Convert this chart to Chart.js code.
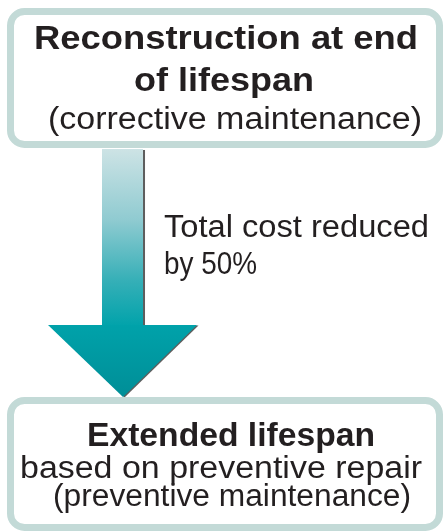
<!DOCTYPE html>
<html>
<head>
<meta charset="utf-8">
<title>Reconstruction vs extended lifespan</title>
<script src="https://cdn.jsdelivr.net/npm/chart.js@4.4.1/dist/chart.umd.min.js"></script>
<style>
  html, body { margin: 0; padding: 0; background: #ffffff; }
  #wrap { width: 444px; height: 532px; }
</style>
</head>
<body>
<div id="wrap"><canvas id="diagram" width="444" height="532"></canvas></div>
<script>
// Textos del diagrama (de arriba hacia abajo)
const boxTitles = [["Reconstruction at end", "of lifespan"], ["Extended lifespan"]];
const boxNotes = [["(corrective maintenance)"], ["based on preventive repair", "(preventive maintenance)"]];
const arrowLabel = ["Total cost reduced", "by 50%"];

// Posiciones en unidades del diagrama (ejes ocultos 0..444 x 0..532)
const layout = {
    boxes: [
        { x0: 7, y0: 8, x1: 443, y1: 148,
          lines: [ { y: 49, cx: 226, w: 384 }, { y: 91, cx: 224, w: 180 }, { y: 129, cx: 235, w: 374 } ] },
        { x0: 7, y0: 397, x1: 443, y1: 531,
          lines: [ { y: 446, cx: 231, w: 288 }, { y: 478, cx: 221, w: 402 }, { y: 506, cx: 232, w: 358 } ] }
    ],
    arrow: { shaftX0: 102, shaftX1: 143, top: 149, neck: 325, headX0: 48, headX1: 197, tip: 397 },
    label: { x: 164, lines: [ { y: 237, w: 265 }, { y: 274, w: 93 } ] }
};

const fontFamily = "'Liberation Sans', Arial, Helvetica, sans-serif";
const textColor = '#231f20';
const borderColor = '#c3dad7';

function roundRect(ctx, x, y, w, h, r) {
    ctx.beginPath();
    ctx.moveTo(x + r, y);
    ctx.lineTo(x + w - r, y);
    ctx.arcTo(x + w, y, x + w, y + r, r);
    ctx.lineTo(x + w, y + h - r);
    ctx.arcTo(x + w, y + h, x + w - r, y + h, r);
    ctx.lineTo(x + r, y + h);
    ctx.arcTo(x, y + h, x, y + h - r, r);
    ctx.lineTo(x, y + r);
    ctx.arcTo(x, y, x + r, y, r);
    ctx.closePath();
}

// Dibuja una línea de texto ajustada al ancho medido en la imagen
function fitText(ctx, text, font, x, y, width, align) {
    ctx.save();
    ctx.font = font;
    const w = ctx.measureText(text).width;
    ctx.translate(x, y);
    ctx.scale(width / w, 1);
    ctx.textAlign = align;
    ctx.textBaseline = 'alphabetic';
    ctx.fillStyle = textColor;
    ctx.fillText(text, 0, 0);
    ctx.restore();
}

const diagramPlugin = {
    id: 'diagrama',
    afterDraw(chart) {
        const ctx = chart.ctx;
        const sx = chart.scales.x;
        const sy = chart.scales.y;
        const px = v => sx.getPixelForValue(v);
        const py = v => sy.getPixelForValue(v);

        // -- Flecha --
        const a = layout.arrow;
        ctx.save();
        ctx.shadowColor = 'rgba(40, 40, 40, 0.75)';
        ctx.shadowOffsetX = 1.5;
        ctx.shadowOffsetY = 0.5;
        ctx.shadowBlur = 0.5;
        const gShaft = ctx.createLinearGradient(0, py(a.top), 0, py(a.neck));
        gShaft.addColorStop(0, '#cde3e5');
        gShaft.addColorStop(0.4, '#90cbd1');
        gShaft.addColorStop(0.75, '#35afb7');
        gShaft.addColorStop(1, '#02a3ab');
        ctx.fillStyle = gShaft;
        ctx.fillRect(px(a.shaftX0), py(a.top), px(a.shaftX1) - px(a.shaftX0), py(a.neck) - py(a.top) + 1);

        const gHead = ctx.createLinearGradient(0, py(a.neck), 0, py(a.tip));
        gHead.addColorStop(0, '#00a2aa');
        gHead.addColorStop(1, '#008e97');
        ctx.fillStyle = gHead;
        ctx.beginPath();
        ctx.moveTo(px(a.headX0), py(a.neck));
        ctx.lineTo(px(a.headX1), py(a.neck));
        ctx.lineTo(px((a.shaftX0 + a.shaftX1) / 2 + 0.5), py(a.tip));
        ctx.closePath();
        ctx.fill();
        ctx.restore();

        // -- Cajas --
        layout.boxes.forEach((b, i) => {
            ctx.save();
            ctx.lineWidth = 7;
            ctx.strokeStyle = borderColor;
            ctx.fillStyle = '#ffffff';
            roundRect(ctx, px(b.x0) + 3.5, py(b.y0) + 3.5, px(b.x1) - px(b.x0) - 7, py(b.y1) - py(b.y0) - 7, 14);
            ctx.fill();
            ctx.stroke();
            ctx.restore();

            const textos = boxTitles[i].map(t => ({ t, bold: true })).concat(boxNotes[i].map(t => ({ t, bold: false })));
            textos.forEach((item, j) => {
                const ln = b.lines[j];
                const font = item.bold ? `bold 34px ${fontFamily}` : `31px ${fontFamily}`;
                fitText(ctx, item.t, font, px(ln.cx), py(ln.y), ln.w, 'center');
            });
        });

        // -- Etiqueta de la flecha --
        arrowLabel.forEach((t, j) => {
            const ln = layout.label.lines[j];
            fitText(ctx, t, `31px ${fontFamily}`, px(layout.label.x), py(ln.y), ln.w, 'left');
        });
    }
};

const ctxDiagram = document.getElementById('diagram').getContext('2d');
const chartDiagram = new Chart(ctxDiagram, {
    type: 'scatter',
    data: { datasets: [] },
    options: {
        responsive: false,
        animation: false,
        layout: { padding: 0 },
        plugins: { legend: { display: false }, tooltip: { enabled: false } },
        scales: {
            x: { type: 'linear', min: 0, max: 444, display: false },
            y: { type: 'linear', min: 0, max: 532, reverse: true, display: false }
        }
    },
    plugins: [diagramPlugin]
});
</script>
</body>
</html>
